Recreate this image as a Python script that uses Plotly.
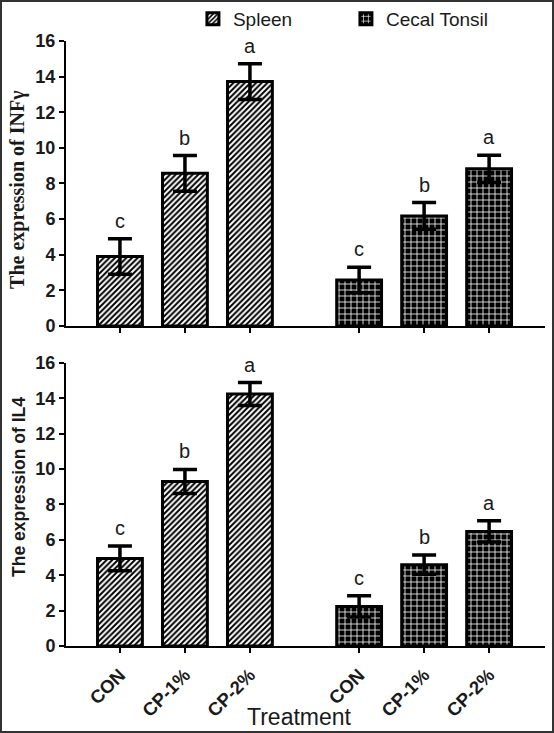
import plotly.graph_objects as go

treatments = ["CON", "CP-1%", "CP-2%"]
groups = ["Spleen", "Cecal Tonsil"]

# INFγ (top panel)
inf_spleen = [3.9, 8.57, 13.72]
inf_spleen_err = [1.0, 1.0, 1.0]
inf_cecal = [2.58, 6.18, 8.82]
inf_cecal_err = [0.72, 0.75, 0.77]
inf_letters_spleen = ["c", "b", "a"]
inf_letters_cecal = ["c", "b", "a"]

# IL4 (bottom panel)
il4_spleen = [4.95, 9.3, 14.24]
il4_spleen_err = [0.7, 0.68, 0.65]
il4_cecal = [2.24, 4.6, 6.48]
il4_cecal_err = [0.6, 0.55, 0.6]
il4_letters_spleen = ["c", "b", "a"]
il4_letters_cecal = ["c", "b", "a"]

GAP = 3.68
xs_spleen = [i for i in range(len(treatments))]
xs_cecal = [i + GAP for i in range(len(treatments))]

TXT = "#1a1a1a"
spleen_pattern = dict(shape="/", size=4, solidity=0.5, fgcolor="black", bgcolor="white", fillmode="replace")
cecal_pattern = dict(shape="+", size=6, solidity=0.25, fgcolor="white", bgcolor="black", fillmode="replace")

fig = go.Figure()

def add_bars(xs, ys, errs, name, pattern, yaxis, xaxis, show):
    fig.add_trace(go.Bar(
        x=xs, y=ys, name=name, width=0.69,
        marker=dict(color=pattern["bgcolor"], pattern=pattern, line=dict(color="black", width=3)),
        error_y=dict(type="data", array=errs, visible=True, thickness=3.5, width=12, color="black"),
        xaxis=xaxis, yaxis=yaxis, showlegend=show, legendgroup=name,
    ))

add_bars(xs_spleen, inf_spleen, inf_spleen_err, groups[0], spleen_pattern, "y", "x", True)
add_bars(xs_cecal, inf_cecal, inf_cecal_err, groups[1], cecal_pattern, "y", "x", True)
add_bars(xs_spleen, il4_spleen, il4_spleen_err, groups[0], spleen_pattern, "y2", "x2", False)
add_bars(xs_cecal, il4_cecal, il4_cecal_err, groups[1], cecal_pattern, "y2", "x2", False)

annotations = []
def add_letters(xs, ys, errs, letters, xref, yref):
    for x, y, e, t in zip(xs, ys, errs, letters):
        annotations.append(dict(x=x, y=y + e, xref=xref, yref=yref, text=t, showarrow=False,
                                yanchor="bottom", yshift=5,
                                font=dict(family="Liberation Sans, Arial", size=20, color=TXT)))

add_letters(xs_spleen, inf_spleen, inf_spleen_err, inf_letters_spleen, "x", "y")
add_letters(xs_cecal, inf_cecal, inf_cecal_err, inf_letters_cecal, "x", "y")
add_letters(xs_spleen, il4_spleen, il4_spleen_err, il4_letters_spleen, "x2", "y2")
add_letters(xs_cecal, il4_cecal, il4_cecal_err, il4_letters_cecal, "x2", "y2")

annotations.append(dict(x=-0.100, y=0.754, xref="paper", yref="paper", text="<b>The expression of INFγ</b>",
                        textangle=-90, showarrow=False, xanchor="center", yanchor="middle",
                        font=dict(family="Liberation Serif, Times New Roman", size=20, color=TXT)))
annotations.append(dict(x=-0.098, y=0.263, xref="paper", yref="paper", text="<b>The expression of IL4</b>",
                        textangle=-90, showarrow=False, xanchor="center", yanchor="middle",
                        font=dict(family="Liberation Sans, Arial", size=17.5, color=TXT)))
annotations.append(dict(x=0.4885, y=-0.117, xref="paper", yref="paper", text="Treatment",
                        showarrow=False, xanchor="center", yanchor="middle",
                        font=dict(family="Liberation Sans, Arial", size=23, color=TXT)))

tickvals = xs_spleen + xs_cecal
ticktext = treatments + treatments
xrange = [-0.83, 6.54]

axis_common = dict(showline=True, linecolor="black", linewidth=2, ticks="outside", ticklen=5,
                   tickwidth=2, tickcolor="black", showgrid=False, zeroline=False)

fig.update_layout(
    width=554, height=733,
    margin=dict(l=66, r=9, t=41, b=87, autoexpand=False),
    paper_bgcolor="white", plot_bgcolor="white",
    barmode="overlay",
    xaxis=dict(domain=[0, 1], anchor="y", range=xrange, tickvals=tickvals, ticktext=ticktext,
               showticklabels=False, **axis_common),
    yaxis=dict(domain=[0.529, 1.0], anchor="x", range=[0, 16], dtick=2,
               tickfont=dict(family="Liberation Sans, Arial", size=18, color=TXT, weight="bold"), **axis_common),
    xaxis2=dict(domain=[0, 1], anchor="y2", range=xrange, tickvals=tickvals, ticktext=ticktext,
                tickangle=-45, ticklabelstandoff=4,
                tickfont=dict(family="Liberation Sans, Arial", size=18.5, color=TXT, weight="bold"),
                **axis_common),
    yaxis2=dict(domain=[0, 0.4678], anchor="x2", range=[0, 16], dtick=2,
                tickfont=dict(family="Liberation Sans, Arial", size=18, color=TXT, weight="bold"), **axis_common),
    legend=dict(orientation="h", x=0.265, y=1.068, xanchor="left", yanchor="top", entrywidth=108,
                font=dict(family="Liberation Sans, Arial", size=19, color=TXT), bgcolor="rgba(0,0,0,0)"),
    annotations=annotations,
    shapes=[dict(type="rect", xref="paper", yref="paper",
                 x0=(1 - 66) / 479, x1=(553 - 66) / 479, y0=(646 - 732) / 605, y1=(646 - 1) / 605,
                 line=dict(color="#333333", width=2), fillcolor="rgba(0,0,0,0)")],
)

fig.write_html("out.html", config={"displayModeBar": False},
               post_script="document.body.style.margin='0px';")
